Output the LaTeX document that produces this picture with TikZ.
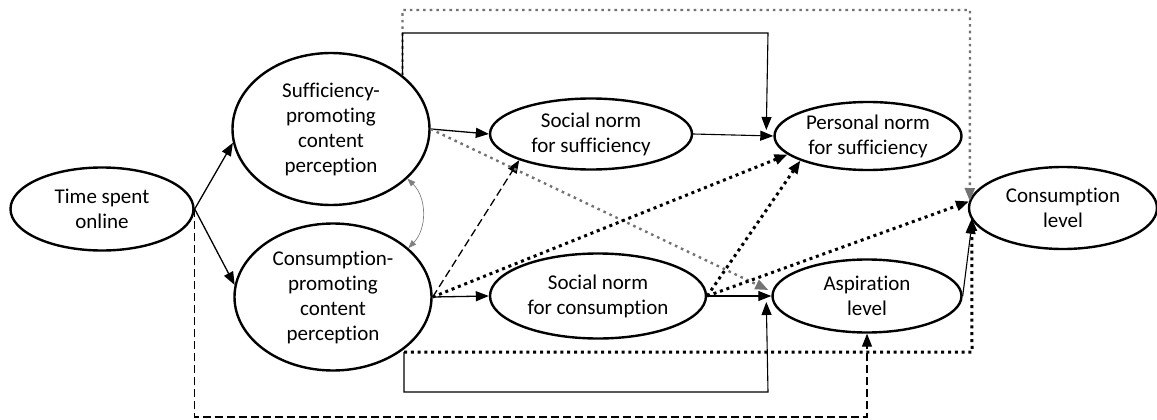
\documentclass[tikz,border=0pt]{standalone}
\usepackage{fontspec}
\setmainfont{Carlito}[RawFeature={-liga,-clig,-calt,-dlig}]
\usetikzlibrary{shapes.geometric,arrows.meta,calc}
\definecolor{dotgrey}{RGB}{115,115,115}
\begin{document}
\begin{tikzpicture}[x=1pt,y=-1pt,
  var/.style={draw,ellipse,line width=2.4pt,inner sep=0pt,align=center,
    font=\fontsize{21}{25}\selectfont},
  tip/.style={-{Triangle[length=13pt,width=10pt]}},
  sol/.style={tip,line width=1.3pt},
  thin/.style={tip,line width=1.1pt},
  dsh/.style={tip,line width=1.3pt,dash pattern=on 8pt off 4pt},
  bdot/.style={tip,line width=3pt,dash pattern=on 3pt off 3.8pt},
  gdot/.style={-{Triangle[length=13pt,width=10pt]},draw=dotgrey,line width=2.4pt,dash pattern=on 2.6pt off 4pt},
  corr/.style={{Triangle[length=8pt,width=6pt]}-{Triangle[length=8pt,width=6pt]},draw=gray,line width=0.7pt}]
\useasboundingbox (0,0) rectangle (1157,420);
\node[var,minimum width=183pt,minimum height=83pt] (time) at (102,209) {Time spent\\online};
\node[var,minimum width=197pt,minimum height=152pt] (suff) at (331,129) {Sufficiency-\\promoting\\content\\perception};
\node[var,minimum width=197pt,minimum height=147pt] (cons) at (333,297) {Consumption-\\promoting\\content\\perception};
\node[var,minimum width=202pt,minimum height=71pt] (sns) at (591,134) {Social norm\\for sufficiency};
\node[var,minimum width=216pt,minimum height=85pt] (snc) at (598,296) {Social norm\\for consumption};
\node[var,minimum width=187pt,minimum height=68pt] (pn) at (868,136) {Personal norm\\for sufficiency};
\node[var,minimum width=189pt,minimum height=73pt] (asp) at (867,296) {Aspiration\\level};
\node[var,minimum width=188pt,minimum height=82pt] (cl) at (1063,208) {Consumption\\level};
% time -> perceptions
\draw[sol] (time.east) -- (suff.188);
\draw[sol] (time.east) -- (cons.173);
% correlation
\draw[corr] (suff.-33) to[bend left=45] (cons.33);
% top grey dotted: suff -> consumption level
\draw[gdot] (suff.37) |- (970,10) -- ($(cl.west)+(2,-7)$);
% top solid: suff -> personal norm
\draw[thin] (suff.37) |- (768,33) -- ($(pn.west)+(-7,-6)$);
% bottom dotted: cons -> consumption level
\coordinate (cb) at ($(cons.center)+(71,55)$);
\draw[bdot] (cb) -- (cb -| 972,0) -- ($(cl.west)+(4,10)$);
% bottom solid: cons -> aspiration
\draw[thin] (cb) |- (768,392) -- ($(asp.west)+(-5,6)$);
% dashed: time -> aspiration
\draw[dsh] (time.east) |- (867,417) -- (asp.south);
% direct paths
\draw[sol] (suff.east) -- (sns.west);
\draw[sol] (cons.east) -- (snc.west);
\draw[dsh] (cons.east) -- (sns.200);
\draw[gdot] (suff.east) -- ($(asp.west)+(-3,-6)$);
\draw[bdot] (cons.east) -- (pn.193);
\draw[thin] (sns.east) -- (pn.west);
\draw[thin] (snc.east) -- (asp.west);
\draw[bdot] (snc.east) -- (pn.200);
\draw[bdot] (snc.east) -- (cl.176);
\draw[thin] (asp.east) -- (cl.188);
\end{tikzpicture}
\end{document}
